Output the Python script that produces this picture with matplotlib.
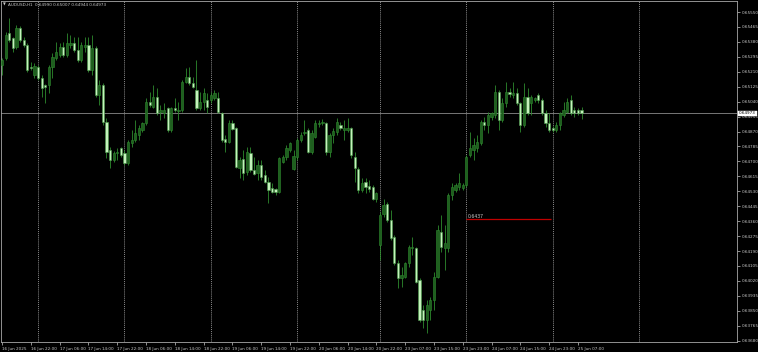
import matplotlib
matplotlib.use("Agg")
import matplotlib.pyplot as plt
import numpy as np

# AUDUSD H1 bars, 16 Jun 2025 14:00 -> 25 Jun 2025 08:00
opens = [
    0.65248, 0.65288, 0.65431, 0.65402, 0.65351, 0.65459, 0.65391, 0.65362, 0.65237, 0.65192,
    0.65237, 0.65175, 0.65135, 0.65135, 0.65237, 0.65288, 0.65305, 0.65351, 0.65305, 0.65362,
    0.65374, 0.65334, 0.65277, 0.65351, 0.65362, 0.65220, 0.65345, 0.65078, 0.65135, 0.64924,
    0.64765, 0.64708, 0.64748, 0.64776, 0.64748, 0.64691, 0.64805, 0.64822, 0.64850, 0.64879,
    0.64918, 0.65038, 0.65010, 0.65066, 0.64981, 0.64975, 0.65004, 0.64879, 0.65004, 0.64987,
    0.64992, 0.65152, 0.65180, 0.65146, 0.65106, 0.65004, 0.65038, 0.65049, 0.65049, 0.65061,
    0.65061, 0.64975, 0.64827, 0.64810, 0.64918, 0.64890, 0.64662, 0.64714, 0.64640, 0.64748,
    0.64651, 0.64634, 0.64679, 0.64623, 0.64583, 0.64549, 0.64543, 0.64526, 0.64697, 0.64725,
    0.64765, 0.64657, 0.64725, 0.64822, 0.64862, 0.64879, 0.64753, 0.64839, 0.64913, 0.64918,
    0.64918, 0.64753, 0.64850, 0.64867, 0.64907, 0.64879, 0.64879, 0.64890, 0.64725, 0.64657,
    0.64537, 0.64583, 0.64560, 0.64554, 0.64486, 0.64224, 0.64401, 0.64458, 0.64367, 0.64270,
    0.64122, 0.64037, 0.64042, 0.64122, 0.64207, 0.64207, 0.64025, 0.63854, 0.63798, 0.63854,
    0.63911, 0.64042, 0.64298, 0.64207, 0.64207, 0.64509, 0.64537, 0.64554, 0.64549, 0.64566,
    0.64736, 0.64765, 0.64776, 0.64805, 0.64924, 0.64907, 0.64953, 0.64964, 0.65095, 0.64936,
    0.65032, 0.65095, 0.65078, 0.65089, 0.65032, 0.64907, 0.65066, 0.65032, 0.65049, 0.65078,
    0.65049, 0.64975, 0.64918, 0.64890, 0.64879, 0.64907, 0.64964, 0.64981, 0.65049, 0.64992,
    0.64992, 0.64990,
]
highs = [
    0.65288, 0.65436, 0.65516, 0.65408, 0.65476, 0.65470, 0.65408, 0.65374, 0.65266, 0.65260,
    0.65248, 0.65192, 0.65140, 0.65248, 0.65317, 0.65379, 0.65374, 0.65379, 0.65431, 0.65419,
    0.65408, 0.65408, 0.65379, 0.65408, 0.65408, 0.65419, 0.65357, 0.65163, 0.65146, 0.64947,
    0.64782, 0.64759, 0.64776, 0.64782, 0.64765, 0.64822, 0.64879, 0.64936, 0.64907, 0.64924,
    0.65061, 0.65095, 0.65135, 0.65118, 0.65021, 0.65032, 0.65010, 0.65010, 0.65061, 0.65038,
    0.65163, 0.65231, 0.65237, 0.65180, 0.65277, 0.65095, 0.65118, 0.65089, 0.65095, 0.65106,
    0.65095, 0.64981, 0.64850, 0.64936, 0.64936, 0.64896, 0.64725, 0.64765, 0.64782, 0.64782,
    0.64725, 0.64708, 0.64708, 0.64651, 0.64611, 0.64577, 0.64549, 0.64725, 0.64736, 0.64793,
    0.64810, 0.64765, 0.64833, 0.64867, 0.64936, 0.64890, 0.64879, 0.64936, 0.64936, 0.64941,
    0.64924, 0.64862, 0.64890, 0.64947, 0.64924, 0.64936, 0.64947, 0.64896, 0.64753, 0.64668,
    0.64606, 0.64606, 0.64594, 0.64566, 0.64526, 0.64412, 0.64486, 0.64469, 0.64423, 0.64281,
    0.64139, 0.64099, 0.64128, 0.64224, 0.64270, 0.64213, 0.64037, 0.63883, 0.63911, 0.63928,
    0.64071, 0.64338, 0.64395, 0.64338, 0.64520, 0.64577, 0.64577, 0.64634, 0.64577, 0.64736,
    0.64867, 0.64833, 0.64850, 0.64936, 0.64953, 0.64981, 0.64981, 0.65135, 0.65106, 0.65061,
    0.65152, 0.65118, 0.65152, 0.65118, 0.65038, 0.65146, 0.65118, 0.65078, 0.65066, 0.65089,
    0.65061, 0.64992, 0.64975, 0.64901, 0.64924, 0.64981, 0.65038, 0.65061, 0.65078, 0.65010,
    0.65004, 0.65007,
]
lows = [
    0.65192, 0.65277, 0.65379, 0.65322, 0.65340, 0.65379, 0.65351, 0.65209, 0.65220, 0.65175,
    0.65163, 0.65066, 0.65032, 0.65089, 0.65175, 0.65277, 0.65294, 0.65294, 0.65294, 0.65345,
    0.65322, 0.65266, 0.65266, 0.65322, 0.65209, 0.65192, 0.65066, 0.65021, 0.64907, 0.64719,
    0.64662, 0.64697, 0.64708, 0.64725, 0.64679, 0.64679, 0.64782, 0.64810, 0.64822, 0.64867,
    0.64907, 0.65010, 0.65004, 0.64964, 0.64936, 0.64947, 0.64867, 0.64867, 0.64981, 0.64936,
    0.64981, 0.65146, 0.65135, 0.65118, 0.64992, 0.64992, 0.64992, 0.64975, 0.65032, 0.65049,
    0.64975, 0.64810, 0.64753, 0.64805, 0.64879, 0.64662, 0.64606, 0.64594, 0.64623, 0.64640,
    0.64623, 0.64594, 0.64594, 0.64577, 0.64463, 0.64520, 0.64509, 0.64520, 0.64691, 0.64708,
    0.64753, 0.64651, 0.64708, 0.64810, 0.64850, 0.64748, 0.64742, 0.64833, 0.64896, 0.64907,
    0.64736, 0.64725, 0.64805, 0.64850, 0.64879, 0.64822, 0.64867, 0.64719, 0.64583, 0.64520,
    0.64526, 0.64520, 0.64526, 0.64480, 0.64469, 0.64139, 0.64384, 0.64355, 0.64253, 0.64110,
    0.63980, 0.63985, 0.64037, 0.64099, 0.64167, 0.64008, 0.63786, 0.63752, 0.63724, 0.63798,
    0.63854, 0.64037, 0.64184, 0.64082, 0.64184, 0.64480, 0.64526, 0.64537, 0.64537, 0.64554,
    0.64725, 0.64708, 0.64753, 0.64793, 0.64879, 0.64862, 0.64936, 0.64947, 0.64879, 0.64924,
    0.65010, 0.65066, 0.65061, 0.65021, 0.64867, 0.64896, 0.64964, 0.64964, 0.65038, 0.65032,
    0.64964, 0.64896, 0.64867, 0.64867, 0.64867, 0.64879, 0.64953, 0.64975, 0.64964, 0.64953,
    0.64964, 0.64944,
]
closes = [
    0.65277, 0.65419, 0.65391, 0.65345, 0.65459, 0.65391, 0.65362, 0.65220, 0.65231, 0.65243,
    0.65175, 0.65118, 0.65123, 0.65237, 0.65294, 0.65322, 0.65351, 0.65305, 0.65374, 0.65374,
    0.65334, 0.65277, 0.65362, 0.65362, 0.65220, 0.65345, 0.65078, 0.65135, 0.64924, 0.64753,
    0.64708, 0.64748, 0.64753, 0.64736, 0.64691, 0.64810, 0.64822, 0.64862, 0.64890, 0.64918,
    0.65038, 0.65021, 0.65066, 0.64975, 0.64992, 0.64992, 0.64879, 0.65004, 0.64992, 0.64992,
    0.65152, 0.65180, 0.65146, 0.65123, 0.65004, 0.65038, 0.65089, 0.65010, 0.65078, 0.65089,
    0.64981, 0.64822, 0.64810, 0.64918, 0.64884, 0.64668, 0.64708, 0.64634, 0.64753, 0.64651,
    0.64628, 0.64679, 0.64611, 0.64583, 0.64537, 0.64526, 0.64526, 0.64719, 0.64725, 0.64776,
    0.64805, 0.64731, 0.64822, 0.64850, 0.64867, 0.64753, 0.64862, 0.64918, 0.64918, 0.64924,
    0.64753, 0.64850, 0.64873, 0.64924, 0.64890, 0.64890, 0.64890, 0.64736, 0.64662, 0.64537,
    0.64577, 0.64554, 0.64543, 0.64486, 0.64520, 0.64395, 0.64452, 0.64367, 0.64264, 0.64122,
    0.64037, 0.64054, 0.64122, 0.64213, 0.64213, 0.64014, 0.63798, 0.63798, 0.63883, 0.63911,
    0.64042, 0.64310, 0.64213, 0.64236, 0.64509, 0.64554, 0.64566, 0.64577, 0.64566, 0.64725,
    0.64776, 0.64793, 0.64810, 0.64924, 0.64907, 0.64964, 0.64975, 0.65095, 0.64936, 0.65032,
    0.65095, 0.65083, 0.65089, 0.65032, 0.64907, 0.65066, 0.64975, 0.65066, 0.65061, 0.65049,
    0.64975, 0.64918, 0.64879, 0.64879, 0.64907, 0.64975, 0.64992, 0.65038, 0.64975, 0.64975,
    0.64975, 0.64973,
]

# time axis labels (bar index -> text), every 8 bars like the terminal does
time_tick_bars = [0, 8, 16, 24, 32, 40, 48, 56, 64, 72, 80, 88, 96, 104,
                  112, 120, 128, 136, 144, 152, 160]
time_tick_labels = ["16 Jun 2025", "16 Jun 22:00", "17 Jun 06:00", "17 Jun 14:00",
                    "17 Jun 22:00", "18 Jun 06:00", "18 Jun 14:00", "18 Jun 22:00",
                    "19 Jun 06:00", "19 Jun 14:00", "19 Jun 22:00", "20 Jun 06:00",
                    "20 Jun 14:00", "20 Jun 22:00", "23 Jun 07:00", "23 Jun 15:00",
                    "23 Jun 23:00", "24 Jun 07:00", "24 Jun 15:00", "24 Jun 23:00",
                    "25 Jun 07:00"]
# day separators (midnight bars), last one is in the empty shift area
day_bars = [10, 34, 58, 82, 105, 129, 153, 177]

price_ticks = [0.63680, 0.63765, 0.63850, 0.63935, 0.64020, 0.64105, 0.64190, 0.64275,
               0.64360, 0.64445, 0.64530, 0.64615, 0.64700, 0.64785, 0.64870, 0.64955,
               0.65040, 0.65125, 0.65210, 0.65295, 0.65380, 0.65465, 0.65550]

last_price = 0.64973
level_price = 0.6437
level_start, level_end = 129, 152.5

symbol_title = "AUDUSD,H1  0.64990 0.65007 0.64944 0.64973"

bg = "black"
fg = "#c8c8c8"
bull_face, bull_edge = "#1f5f1f", "#2e8b2e"
bear_face, bear_edge = "#c4f2bc", "#4a9a4a"
wick_col = "#2e8b2e"

W, H = 758, 352
fig = plt.figure(figsize=(W / 100, H / 100), dpi=100, facecolor=bg)
ax = fig.add_axes([1 / W, 1 - 342 / H, 736 / W, 341 / H], facecolor=bg)

x = np.arange(len(closes))
o = np.array(opens)
c = np.array(closes)
hi = np.array(highs)
lo = np.array(lows)
up = c >= o

# wicks
ax.vlines(x, lo, hi, color=wick_col, linewidth=0.6, zorder=2)

# bodies
body_h = np.maximum(np.abs(c - o), 0.000012)
body_b = np.minimum(o, c)
ax.bar(x[up], body_h[up], bottom=body_b[up], width=0.62, color=bull_face,
       edgecolor=bull_edge, linewidth=0.4, zorder=3)
ax.bar(x[~up], body_h[~up], bottom=body_b[~up], width=0.62, color=bear_face,
       edgecolor=bear_edge, linewidth=0.4, zorder=3)

# grid - only vertical day separators
for d in day_bars:
    ax.axvline(d, color="#bdbdbd", linewidth=0.5, linestyle=(0, (1.5, 1.5)), zorder=1)

# bid line
ax.axhline(last_price, color="#8a8a8a", linewidth=0.6, zorder=1)

# red horizontal level with its text
ax.hlines(level_price, level_start, level_end, color="#c00000", linewidth=0.9, zorder=4)
ax.text(level_start + 0.3, level_price + 0.00004, "0.6437", color=fg, fontsize=3.3,
        ha="left", va="bottom", zorder=5)

ax.set_xlim(-0.3, 204.2)
ax.set_ylim(0.636723, 0.656126)

ax.set_xticks(time_tick_bars)
ax.set_xticklabels(time_tick_labels)
for lab in ax.get_xticklabels():
    lab.set_ha("left")
ax.yaxis.tick_right()
ax.set_yticks(price_ticks)
ax.set_yticklabels(["%.5f" % p for p in price_ticks])
ax.tick_params(axis="both", colors=fg, labelcolor=fg, labelsize=3.0,
               length=2.5, width=0.5, pad=1.2)

for s in ax.spines.values():
    s.set_color("#a8a8a8")
    s.set_linewidth(0.6)

# current price box on the price scale
ax.annotate("%.5f" % last_price, xy=(1.0, last_price),
            xycoords=("axes fraction", "data"), xytext=(1.5, 0),
            textcoords="offset points", fontsize=3.0, color="black",
            ha="left", va="center",
            bbox=dict(boxstyle="square,pad=0.15", fc="white", ec="white", lw=0.3))

# chart header
fig.text(3 / W, 1 - 5 / H, "\u25bc", color=fg, fontsize=2.6, ha="left", va="center")
fig.text(8 / W, 1 - 5 / H, symbol_title, color=fg, fontsize=3.0, ha="left", va="center")

fig.savefig("out.png", dpi=100, facecolor=bg)
